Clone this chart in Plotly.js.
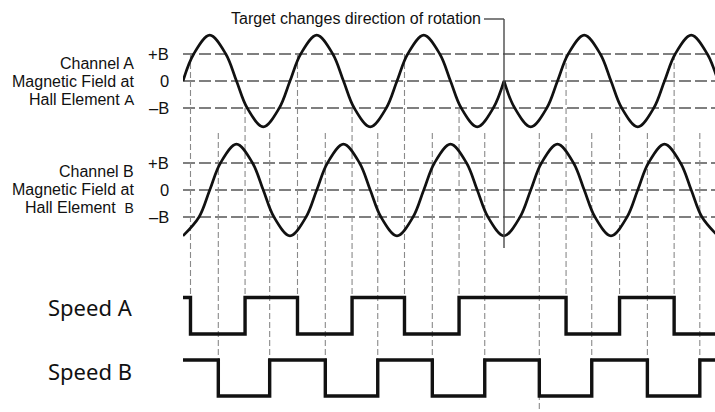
<!DOCTYPE html>
<html>
<head>
<meta charset="utf-8">
<script src="https://cdn.plot.ly/plotly-3.0.1.min.js"></script>
<style>
  html, body { margin: 0; padding: 0; background: #ffffff; }
  #chart { width: 715px; height: 412px; }
</style>
</head>
<body>
<div id="chart"></div>
<script>
// ---------------- DATA (time in arbitrary units, one field period = 100; field in units of B) ----------------
const reversalTime = 300;

// Channel A field, before the target reverses
const chanA1Time  = [0, 10, 25, 40, 50, 60, 75, 90, 100, 110, 125, 140, 150, 160, 175, 190, 200, 210, 225, 240, 250, 260, 275, 290, 300];
const chanA1Field = [0, 1, 1.7, 1, 0, -1, -1.7, -1, 0, 1, 1.7, 1, 0, -1, -1.7, -1, 0, 1, 1.7, 1, 0, -1, -1.7, -1, 0];
// Channel A field, after the target reverses
const chanA2Time  = [300, 310, 325, 340, 350, 360, 375, 390, 400, 410, 425, 440, 450, 460, 475, 490, 500];
const chanA2Field = [0, -1, -1.7, -1, 0, 1, 1.7, 1, 0, -1, -1.7, -1, 0, 1, 1.7, 1, 0];

// Channel B field (smooth through the reversal)
const chanBTime  = [0, 15, 25, 35, 50, 65, 75, 85, 100, 115, 125, 135, 150, 165, 175, 185, 200, 215, 225, 235, 250, 265, 275, 285, 300,
                    315, 325, 335, 350, 365, 375, 385, 400, 415, 425, 435, 450, 465, 475, 485, 500];
const chanBField = [-1.7, -1, 0, 1, 1.7, 1, 0, -1, -1.7, -1, 0, 1, 1.7, 1, 0, -1, -1.7, -1, 0, 1, 1.7, 1, 0, -1, -1.7,
                    -1, 0, 1, 1.7, 1, 0, -1, -1.7, -1, 0, 1, 1.7, 1, 0, -1, -1.7];

// Speed outputs (1 = high, 0 = low), value holds from each time until the next
const speedATime  = [0, 7, 58, 107, 158, 207, 258, 358, 408, 459, 500];
const speedALevel = [1, 0, 1, 0, 1, 0, 1, 0, 1, 0, 0];
const speedBTime  = [0, 33, 81, 133, 182, 233, 282, 333, 382, 434, 483, 500];
const speedBLevel = [1, 0, 1, 0, 1, 0, 1, 0, 1, 0, 1, 1];

// Labels
const fieldTickText = ['+B', '0', '\u2013B'];
const fieldTickVals = [1, 0, -1];
const chanALines = ['Channel A', 'Magnetic Field at', 'Hall Element <span style="font-size:15px">A</span>'];
const chanBLines = ['Channel B', 'Magnetic Field at', 'Hall Element  <span style="font-size:14px">B</span>'];
const speedLabels = ['Speed A', 'Speed B'];
const noteText = 'Target changes direction of rotation';

// ---------------- LAYOUT CONSTANTS ----------------
const W = 715, H = 412, PLOT_L = 183;
const X_MAX = 497.2;
const ZERO_A_PX = 81, UNIT_PX = 27;
const yPx = p => (ZERO_A_PX - p) / UNIT_PX;          // pixel row -> y data
const xPaper = p => (p - PLOT_L) / (W - PLOT_L);      // pixel column -> paper x
const Y_RANGE = [yPx(H), yPx(0)];

const OFF_A = 0;
const OFF_B = yPx(190);
const SPA_LOW = yPx(334), SPA_HIGH = yPx(297.5);
const SPB_LOW = yPx(396), SPB_HIGH = yPx(360);
const B_LINE_TOP = yPx(133);

const FONT = 'Liberation Sans, Arial, Helvetica, sans-serif';
const INK = '#111111';

// ---------------- TRACES ----------------
const shift = (arr, off) => arr.map(v => v + off);
const lvl = (arr, lo, hi) => arr.map(v => lo + v * (hi - lo));

const traces = [
  { x: chanA1Time, y: shift(chanA1Field, OFF_A), mode: 'lines', line: { color: INK, width: 2.7, shape: 'spline', smoothing: 1 }, hoverinfo: 'skip' },
  { x: chanA2Time, y: shift(chanA2Field, OFF_A), mode: 'lines', line: { color: INK, width: 2.7, shape: 'spline', smoothing: 1 }, hoverinfo: 'skip' },
  { x: chanBTime,  y: shift(chanBField, OFF_B),  mode: 'lines', line: { color: INK, width: 2.7, shape: 'spline', smoothing: 1 }, hoverinfo: 'skip' },
  { x: speedATime, y: lvl(speedALevel, SPA_LOW, SPA_HIGH), mode: 'lines', line: { color: INK, width: 3.4, shape: 'hv' }, hoverinfo: 'skip' },
  { x: speedBTime, y: lvl(speedBLevel, SPB_LOW, SPB_HIGH), mode: 'lines', line: { color: INK, width: 3.4, shape: 'hv' }, hoverinfo: 'skip' }
];

// ---------------- SHAPES ----------------
const shapes = [];
// horizontal reference levels
[OFF_A, OFF_B].forEach(off => {
  fieldTickVals.forEach(v => {
    shapes.push({ type: 'line', layer: 'below', xref: 'paper', yref: 'y', x0: 0, x1: 1, y0: off + v, y1: off + v,
                  line: { color: '#555555', width: 1.6, dash: '12px,4px' } });
  });
});
// vertical dashed lines at Speed A switch points (start at the threshold A crossed)
for (let i = 1; i < speedATime.length - 1; i++) {
  if (speedALevel[i] === speedALevel[i - 1]) continue;
  const start = speedALevel[i] === 0 ? OFF_A + 1 : OFF_A - 1;
  shapes.push({ type: 'line', layer: 'below', xref: 'x', yref: 'y', x0: speedATime[i], x1: speedATime[i], y0: start, y1: SPA_LOW,
                line: { color: '#8a8a8a', width: 1.1, dash: '6px,3px' } });
}
// vertical dashed lines at Speed B switch points
let firstAfterRev = true;
for (let i = 1; i < speedBTime.length - 1; i++) {
  if (speedBLevel[i] === speedBLevel[i - 1]) continue;
  let end = SPB_HIGH;
  if (speedBTime[i] > reversalTime && firstAfterRev) { end = Y_RANGE[0]; firstAfterRev = false; }
  shapes.push({ type: 'line', layer: 'below', xref: 'x', yref: 'y', x0: speedBTime[i], x1: speedBTime[i], y0: B_LINE_TOP, y1: end,
                line: { color: '#8a8a8a', width: 1.1, dash: '6px,3px' } });
}
// reversal marker
const NOTE_Y = yPx(19);
const noteLeftT = (484 - PLOT_L) / ((W - PLOT_L) / X_MAX);
shapes.push({ type: 'line', xref: 'x', yref: 'y', x0: noteLeftT, x1: reversalTime, y0: NOTE_Y, y1: NOTE_Y, line: { color: '#4a4a4a', width: 1.4 } });
shapes.push({ type: 'line', xref: 'x', yref: 'y', x0: reversalTime, x1: reversalTime, y0: NOTE_Y, y1: yPx(248), line: { color: '#4a4a4a', width: 1.4 } });

// ---------------- ANNOTATIONS ----------------
const annotations = [];
const txt = (text, xpx, y, anchor, size, family) => ({
  text, xref: 'paper', yref: 'y', x: xPaper(xpx), y, xanchor: anchor, yanchor: 'middle',
  showarrow: false, font: { family: family || FONT, size, color: '#111111' }
});
// tick labels
[OFF_A, OFF_B].forEach(off => {
  fieldTickVals.forEach((v, i) => annotations.push(txt(fieldTickText[i], 171, off + v, 'right', 16.5)));
});
// channel labels
const chanARows = [63, 81, 99], chanBRows = [171, 189, 207];
chanALines.forEach((t, i) => annotations.push(txt(t, 136, yPx(chanARows[i]), 'right', 16)));
chanBLines.forEach((t, i) => annotations.push(txt(t, 136, yPx(chanBRows[i]), 'right', 16)));
// speed labels
annotations.push(txt(speedLabels[0], 46, yPx(307), 'left', 22, 'Noto Sans, Open Sans, sans-serif'));
annotations.push(txt(speedLabels[1], 46, yPx(371), 'left', 22, 'Noto Sans, Open Sans, sans-serif'));
// note
annotations.push(txt(noteText, 483, yPx(18), 'right', 16));

const layout = {
  width: W, height: H,
  margin: { l: PLOT_L, r: 0, t: 0, b: 0, pad: 0 },
  paper_bgcolor: '#ffffff', plot_bgcolor: '#ffffff',
  showlegend: false,
  xaxis: { range: [0, X_MAX], visible: false, showgrid: false, zeroline: false, fixedrange: true },
  yaxis: { range: Y_RANGE, visible: false, showgrid: false, zeroline: false, fixedrange: true },
  shapes, annotations
};

Plotly.newPlot('chart', traces, layout, { staticPlot: true, displayModeBar: false });
</script>
</body>
</html>
